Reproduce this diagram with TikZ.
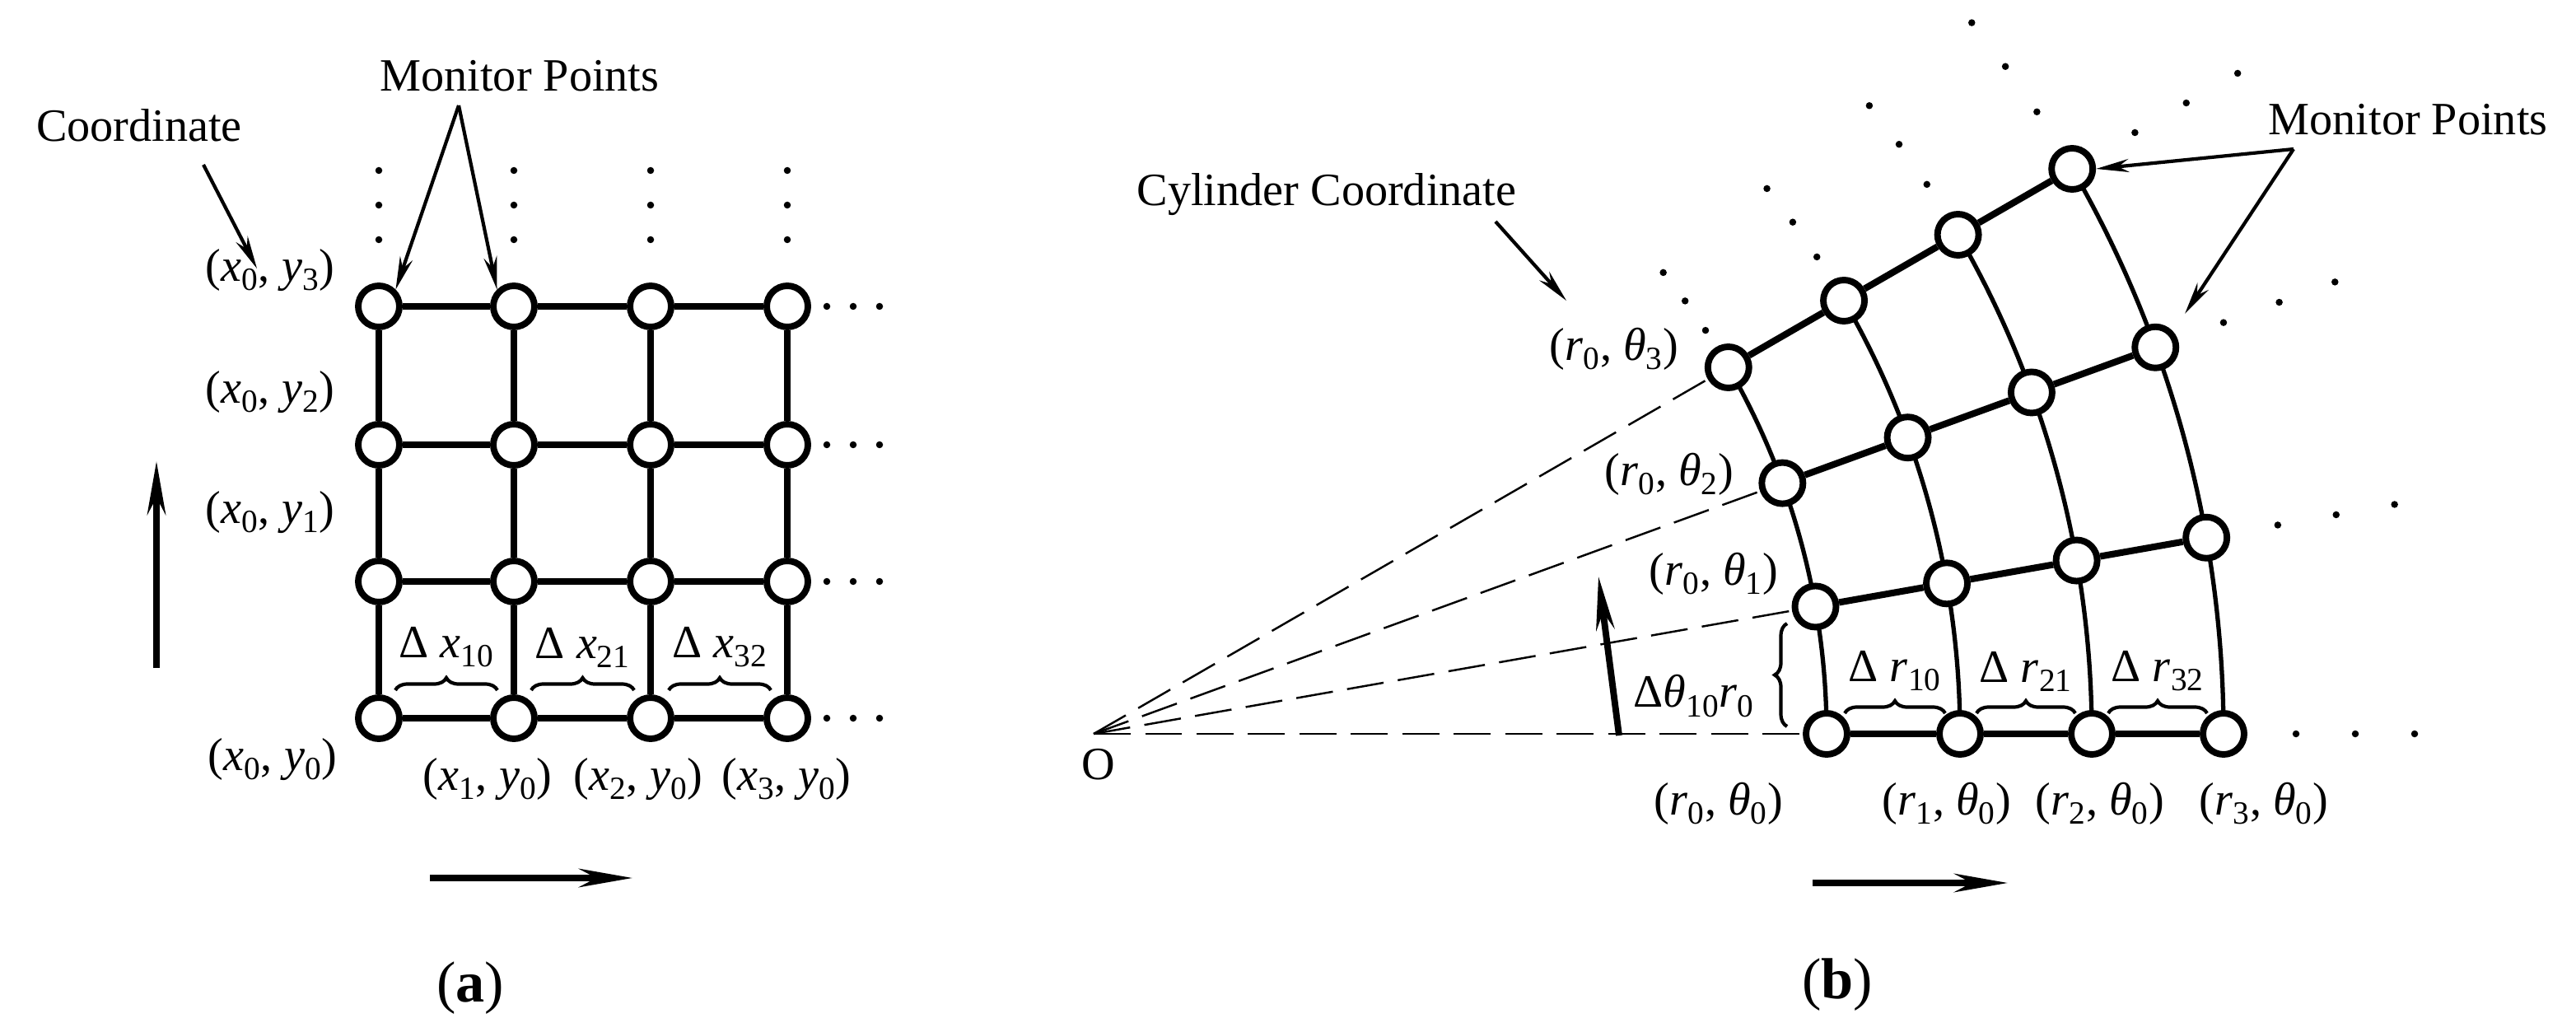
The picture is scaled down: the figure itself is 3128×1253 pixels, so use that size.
\documentclass[tikz,border=0pt]{standalone}
\usepackage{fontspec}
\setmainfont{Liberation Serif}
\usetikzlibrary{arrows.meta,decorations.pathreplacing,calc,backgrounds}
\newcommand\mv[2]{\textit{#1}\textsubscript{#2}}
\begin{document}
\begin{tikzpicture}[x=0.02cm,y=-0.02cm,
  pt/.style={circle,draw,fill=white,line width=4.5pt,minimum size=1cm,inner sep=0pt},
  grid/.style={line width=4pt},
  arcl/.style={line width=3pt},
  lbl/.style={font=\fontsize{32}{36}\selectfont,inner sep=0pt},
  ttl/.style={font=\fontsize{32}{36}\selectfont,inner sep=0pt},
  dot/.style={circle,fill,inner sep=0pt,minimum size=0.17cm},
  ptr/.style={line width=2.4pt,-{Stealth[length=0.8cm,width=0.32cm]}},
  big/.style={line width=4.5pt,-{Stealth[length=1.3cm,width=0.45cm]}},
  br/.style={decorate,decoration={brace,amplitude=0.3cm},line width=2.4pt},
  dsh/.style={line width=1.4pt,dash pattern=on 0.9cm off 0.35cm}]
\useasboundingbox (0,0) rectangle (3128,1253);
% ---------- panel a ----------
\foreach \c/\x in {0/460,1/624,2/790,3/956}{
  \foreach \r/\y in {0/872,1/706,2/540,3/372}{
    \node[pt] (a\c\r) at (\x,\y) {};
  }
  \node[dot] at (\x,207) {}; \node[dot] at (\x,249) {}; \node[dot] at (\x,291) {};
}
\foreach \r/\y in {0/872,1/706,2/540,3/372}{
  \foreach \dx in {1004,1036,1068}{\node[dot] at (\dx,\y) {};}
}
\foreach \r in {0,1,2,3}{
  \draw[grid] (a0\r) -- (a1\r); \draw[grid] (a1\r) -- (a2\r); \draw[grid] (a2\r) -- (a3\r);
}
\foreach \c in {0,1,2,3}{
  \draw[grid] (a\c0) -- (a\c1); \draw[grid] (a\c1) -- (a\c2); \draw[grid] (a\c2) -- (a\c3);
}
\node[lbl] (l3) at (328,328) {(\mv{x}{0}, \mv{y}{3})};
\node[lbl] (l2) at (328,476) {(\mv{x}{0}, \mv{y}{2})};
\node[lbl] (l1) at (328,622) {(\mv{x}{0}, \mv{y}{1})};
\node[lbl] (l0) at (331,922) {(\mv{x}{0}, \mv{y}{0})};
\node[lbl] at (592,946) {(\mv{x}{1}, \mv{y}{0})};
\node[lbl] at (775,946) {(\mv{x}{2}, \mv{y}{0})};
\node[lbl] at (955,946) {(\mv{x}{3}, \mv{y}{0})};
\foreach \a/\b/\t in {480/604/10,645/770/21,812/936/32}{
  \draw[br] (\a,838) -- (\b,838);
  \node[lbl] at ({(\a+\b)/2},786) {Δ \mv{x}{\t}};
}
\node[ttl] (coA) at (169,152) {Coordinate};
\coordinate (coAs) at (247,200);
\coordinate (coAe) at (312,326);
\draw[ptr] (coAs) -- (coAe);
\node[ttl] (mpA) at (631,92) {Monitor Points};
\coordinate (mpAs) at (557,128);
\draw[ptr] (mpAs) -- (a03.north east);
\draw[ptr] (mpAs) -- (a13.north west);
\coordinate (upA1) at (190,811); \coordinate (upA2) at (190,560);
\draw[big] (upA1) -- (upA2);
\coordinate (rtA1) at (522,1066); \coordinate (rtA2) at (768,1066);
\draw[big] (rtA1) -- (rtA2);
\node[font=\fontsize{40}{44}\selectfont] at (571,1200) {(\textbf{a})};
% ---------- panel b ----------
\coordinate (O) at (1328,891);
\node[ttl] (Olbl) at (1334,928) {O};
\foreach \c/\rr in {0/890,1/1052,2/1212,3/1372}{
  \foreach \r in {0,1,2,3}{
    \node[pt] (b\c\r) at ($(O)+({-10*\r}:\rr)$) {};
  }
  \foreach \ang in {33.4,36.2,39.0}{
    \node[dot] at ($(O)+({-\ang}:\rr)$) {};
  }
}
\foreach \r in {0,1,2,3}{
  \foreach \rr in {1460,1532,1604}{
    \node[dot] at ($(O)+({-10*\r}:\rr)$) {};
  }
}
\begin{scope}[on background layer]
  \foreach \c/\rr in {0/890,1/1052,2/1212,3/1372}{
    \draw[arcl] ($(O)+(\rr,0)$) arc[start angle=0,end angle=-30,radius=\rr];
  }
  \foreach \r in {0,1,2,3}{
    \draw[dsh] (O) -- (b0\r);
  }
\end{scope}
\foreach \r in {0,1,2,3}{
  \draw[grid,line width=4.6pt] (b0\r) -- (b1\r); \draw[grid,line width=4.6pt] (b1\r) -- (b2\r); \draw[grid,line width=4.6pt] (b2\r) -- (b3\r);
}
\node[lbl] at (1960,424) {(\mv{r}{0}, \mv{θ}{3})};
\node[lbl] at (2027,576) {(\mv{r}{0}, \mv{θ}{2})};
\node[lbl] at (2081,697) {(\mv{r}{0}, \mv{θ}{1})};
\node[lbl] at (2087,976) {(\mv{r}{0}, \mv{θ}{0})};
\node[lbl] at (2364,976) {(\mv{r}{1}, \mv{θ}{0})};
\node[lbl] at (2550,976) {(\mv{r}{2}, \mv{θ}{0})};
\node[lbl] at (2749,976) {(\mv{r}{3}, \mv{θ}{0})};
\foreach \a/\b/\t in {2240/2362/10,2400/2520/21,2560/2680/32}{
  \draw[br] (\a,866) -- (\b,866);
  \node[lbl] at ({(\a+\b)/2},815) {Δ \mv{r}{\t}};
}
\draw[br] (2170,882) -- (2170,757);
\node[lbl] at (2057,845) {Δ\mv{θ}{10}\mv{r}{0}};
\coordinate (upB1) at (1966,893); \coordinate (upB2) at (1941,700);
\draw[big] (upB1) -- (upB2);
\coordinate (rtB1) at (2201,1072); \coordinate (rtB2) at (2438,1072);
\draw[big] (rtB1) -- (rtB2);
\node[ttl] (coB) at (1611,236) {Cylinder Coordinate};
\coordinate (coBs) at (1816,269); \coordinate (coBe) at (1902,365);
\draw[ptr] (coBs) -- (coBe);
\node[ttl] (mpB) at (2924,145) {Monitor Points};
\coordinate (mpBs) at (2785,181);
\draw[ptr] (mpBs) -- (b33.east);
\draw[ptr] (mpBs) -- (2653,381);
\node[font=\fontsize{40}{44}\selectfont] at (2231,1196) {(\textbf{b})};
\end{tikzpicture}
\end{document}
